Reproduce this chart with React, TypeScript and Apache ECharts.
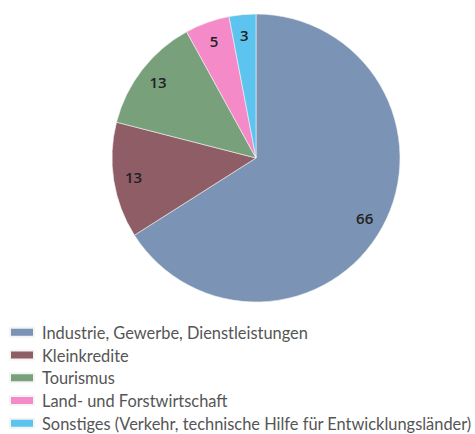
import React, { useEffect, useRef } from "react";
import * as echarts from "echarts";

const categories = [
  "Industrie, Gewerbe, Dienstleistungen",
  "Kleinkredite",
  "Tourismus",
  "Land- und Forstwirtschaft",
  "Sonstiges (Verkehr, technische Hilfe für Entwicklungsländer)",
];
const values = [66, 13, 13, 5, 3];
const colors = ["#7b93b4", "#8e5d66", "#77a07b", "#f48bc8", "#5cc4ee"];

export default function App() {
  const ref = useRef<HTMLDivElement>(null);
  useEffect(() => {
    const chart = echarts.init(ref.current!, null, { renderer: "svg" });
    const data = categories.map((name, i) => ({ name, value: values[i], itemStyle: { color: colors[i] } }));
    chart.setOption({
      animation: false,
      legend: {
        orient: "vertical",
        left: 4,
        top: 318,
        height: 125,
        itemWidth: 24,
        itemHeight: 9,
        itemGap: 4,
        icon: "rect",
        textStyle: { fontFamily: "Lato", fontSize: 16.4, color: "#555", padding: [0, 0, 0, 3], lineHeight: 18.7 },
        data: categories,
      },
      series: [
        {
          type: "pie",
          center: [256, 158],
          radius: [0, 144],
          startAngle: 90,
          clockwise: true,
          label: { show: false },
          labelLine: { show: false },
          itemStyle: { borderColor: "#f4f4f4", borderWidth: 0.6 },
          emphasis: { disabled: true },
          data,
        },
        {
          type: "pie",
          center: [256, 158],
          radius: [98, 144],
          startAngle: 90,
          clockwise: true,
          silent: true,
          itemStyle: { color: "transparent" },
          label: {
            show: true,
            position: "inside",
            formatter: "{c}",
            fontFamily: "Open Sans",
            fontSize: 15,
            fontWeight: 600,
            color: "#222",
          },
          labelLine: { show: false },
          emphasis: { disabled: true },
          data: categories.map((name, i) => ({ name, value: values[i] })),
        },
      ],
    });
    return () => chart.dispose();
  }, []);
  return <div ref={ref} style={{ position: "absolute", left: 0, top: 0, width: 475, height: 434 }} />;
}
